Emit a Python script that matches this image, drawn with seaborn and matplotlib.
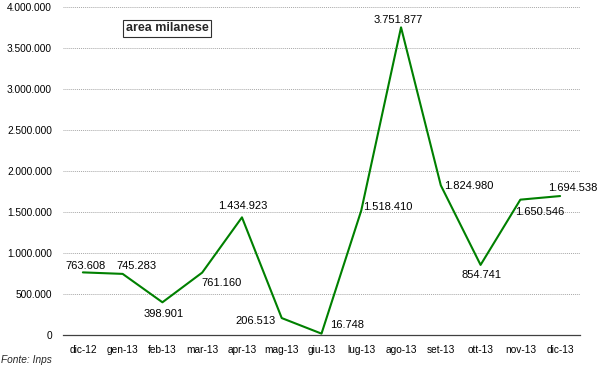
import matplotlib
matplotlib.use("Agg")
import matplotlib.pyplot as plt
import matplotlib.ticker as mticker
import seaborn as sns
import pandas as pd

months = ["dic-12", "gen-13", "feb-13", "mar-13", "apr-13", "mag-13", "giu-13",
          "lug-13", "ago-13", "set-13", "ott-13", "nov-13", "dic-13"]
values = [763608, 745283, 398901, 761160, 1434923, 206513, 16748,
          1518410, 3751877, 1824980, 854741, 1650546, 1694538]
# label offsets in pixels (dx, dy)
label_offsets = [(3, 6), (14, 8), (1, -12), (19, -10), (1, 11), (-26, -3), (26, 9),
                 (27, 3), (-3, 7), (28, -1), (1, -10), (19, -12), (13, 8)]
y_ticks = [0, 500000, 1000000, 1500000, 2000000, 2500000, 3000000, 3500000, 4000000]

def it_fmt(v):
    return f"{int(round(v)):,}".replace(",", ".")

sns.set_style("white")
plt.rcParams['font.family'] = ['Liberation Sans', 'DejaVu Sans']

df = pd.DataFrame({"mese": months, "valore": values})

fig = plt.figure(figsize=(6, 3.67), dpi=100)
ax = fig.add_axes([63/600, 1-335/367, (580-63)/600, (335-7)/367])

sns.lineplot(data=df, x="mese", y="valore", ax=ax, color="#008000", linewidth=1.5, sort=False)

ax.set_xlim(-0.5, len(months)-0.5)
ax.set_ylim(0, 4000000)
ax.set_yticks(y_ticks)
ax.yaxis.set_major_formatter(mticker.FuncFormatter(lambda v, p: it_fmt(v)))
ax.set_xticks(range(len(months)))
ax.set_xticklabels(months)
ax.set_xticks([i - 0.5 for i in range(len(months)+1)], minor=True)
ax.tick_params(axis='x', which='major', length=0, pad=7, labelsize=7.3, colors='black')
ax.tick_params(axis='x', which='minor', length=4, width=0.8, color='#404040', direction='out')
ax.tick_params(axis='y', length=0, pad=8, labelsize=7.3, colors='black')
ax.set_xlabel("")
ax.set_ylabel("")

for s in ["top", "right", "left"]:
    ax.spines[s].set_visible(False)
ax.spines["bottom"].set_color("#404040")
ax.spines["bottom"].set_linewidth(0.9)

ax.yaxis.grid(True, linestyle=(0, (1, 1)), color="#a8a8a8", linewidth=0.7)
ax.set_axisbelow(True)

for i, (v, (dx, dy)) in enumerate(zip(values, label_offsets)):
    ax.annotate(it_fmt(v), xy=(i, v), xytext=(dx, dy), textcoords="offset pixels",
                ha="center", va="center", fontsize=8, color="black")

fig.text(167/600, 1-28/367, "area milanese", ha="center", va="center",
         fontsize=9, fontweight="bold",
         bbox=dict(boxstyle="square,pad=0.2", facecolor="white", edgecolor="#303030", linewidth=0.8))
fig.text(0.002, 1-360/367, "Fonte: Inps", ha="left", va="center", fontsize=7.3, style="italic")

fig.savefig("out.png", dpi=100)
